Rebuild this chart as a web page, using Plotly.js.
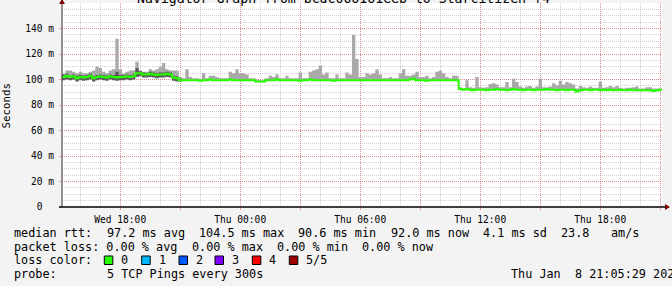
<!DOCTYPE html>
<html><head><meta charset="utf-8">
<script src="https://cdn.plot.ly/plotly-3.0.1.min.js"></script>
<style>html,body{margin:0;padding:0;background:#f3f3f3;overflow:hidden}#chart{width:672px;height:286px}</style>
</head><body><div id="chart"></div>
<script>
// 10-minute steps starting Wed 2020-01-07 15:05:29 (graph end Thu 21:05:29)
const medianRtt = [
 102,103,102,102.5,101,102, 101.5,102,103,101,102,102.5, 102,101.5,102.5,102,101.5,102,
 102,102.5,102,102.5,105,105, 104,104,104.5,104,103.5,104, 104,104.5,104,101.5,101,99.5,
 99.5,99.5,99.5,99.5,99.5,99, 99.5,99.5,100,99.5,99.5,99.5, 99.5,99.5,100,99.5,99.5,99.5,
 99.5,99.5,99.5,99.5,98.5,98.5, 98.5,99.5,99.5,99.5,100,99.5, 99.5,99.5,99.5,99.5,99.5,99,
 99.5,99.5,100,99.5,99.5,99.5, 99.5,99.5,99.5,99,99.5,99.5, 99.5,99.5,99.5,99.5,99.5,99.5,
 99.5,99.5,99.5,99.5,99.5,99.5, 99.5,99.5,99.5,99.5,99.5,99.5, 99.5,99.5,100,100.5,99.5,99.5,
 99.5,99,99.5,99.5,99.5,99.5, 99.5,99.5,99.5,99.5,99.5,92.5, 92,92.5,92,91.5,92,92,
 92,91.5,92,92,92.5,92, 92,91.5,92,92.5,92,92, 91.5,92,92,91.5,92,92,
 92,92.5,92,92,91.5,92, 92,91.5,92,92,90.6,91.5, 92,92,91.5,92,92,91.5,
 92,91.5,92,91.5,91.5,92, 91.5,91.5,92,91.5,91.5,91.5, 91.5,91.5,91.5,91,91.5,92
];
const maxRtt = [
 105,107,107,106,105,106, 105,105,106,107,110,109, 106,105,107,108,132,108,
 105,106,107,107,114,107, 106,106,108,107,108,110, 113,108,107,107,107,102,
 101,108,102,101,101,100.5, 105,101,103,103,102,101, 101,101,106,105,108,105,
 105,104,101,101,100,99.5, 99.5,101,103,102,104,101, 101,103,101,101,101,105.5,
 101,101,106,107,108,111, 104,105.5,101,101,104,101, 101,105.5,104,135,116,102,
 102,105,104,105,108,104, 101,101,102,101,101,105, 108,103,103,104,106,102,
 102,103,101,102,106,107, 105,102,101,103,103,94, 93,99.5,94,93.5,102,94,
 93.5,94,96.5,97,96,94, 94,98,94,100.5,98,94.5, 93.5,94.5,95,93.5,94.5,100.5,
 94,94,94.5,97,95.5,99, 96,98,97,96,93,95, 94,93.5,94.5,93.5,93.5,98.5,
 93.5,94,95,94,95,93.5, 93,93.5,93.5,94,94.5,93, 93,94,94,93,93,93
];
const darkLow = [
 99.5,100,99.5,100,98.5,99.5, 99,99.5,100,98.5,99.5,100, 99.5,99,100,99.5,99,99.5,
 99.5,100,99.5,100,102,102.5, 101.5,101.5,102,101.5,101,101.5, 101.5,102,101.5,99,98.5,98.5
];
const darkHigh = [
 103.5,104.5,103,104,103,103.5, 103,103.5,104.5,102.5,103.5,104, 103.5,103,104,103.5,106,103.5,
 103.5,104,103.5,104,109,106.5, 105.5,105,106,105.5,105,105.5, 105.5,106,105.5,103,102.5,100.5
];
const xTickText = ['Wed 18:00','','Thu 00:00','','Thu 06:00','','Thu 12:00','','Thu 18:00',''];
const yTickValues = [0,20,40,60,80,100,120,140];
const yTickText = ['0\u00a0\u00a0','20 m','40 m','60 m','80 m','100 m','120 m','140 m'];
const lossLabels = ['0','1','2','3','4','5/5'];
const lossColors = ['#26ff00','#00b8ff','#0059ff','#7e00ff','#ff0000','#a10000'];
const statLines = [
 'median rtt:  97.2 ms avg  104.5 ms max  90.6 ms min  92.0 ms now  4.1 ms sd  23.8   am/s',
 'packet loss: 0.00 % avg  0.00 % max  0.00 % min  0.00 % now',
 'loss color:',
 'probe:       5 TCP Pings every 300s'
];
const stampText = 'Thu Jan  8 21:05:29 2020';
const titleText = 'Navigator Graph from bcdc066161eeb to Starcitizen f4';

const STEP = 600000;
const T0 = Date.UTC(2020,0,7,15,5,29);
const T1 = Date.UTC(2020,0,8,21,5,29);
function xs(n){ const a=[]; for(let i=0;i<=n;i++) a.push(T0+i*STEP); return a; }
function ext(arr){ return arr.concat([arr[arr.length-1]]); }

const xMain = xs(medianRtt.length);
const xDark = xs(darkLow.length);
const base = {mode:'lines', line:{width:0, shape:'hv'}, hoverinfo:'skip', showlegend:false};
const traces = [
 Object.assign({}, base, {x:xMain, y:ext(medianRtt)}),
 Object.assign({}, base, {x:xMain, y:ext(maxRtt), fill:'tonexty', fillcolor:'#a9a9a9'}),
 Object.assign({}, base, {x:xDark, y:ext(darkLow)}),
 Object.assign({}, base, {x:xDark, y:ext(darkHigh), fill:'tonexty', fillcolor:'#5c5c5c'}),
 {x:xMain, y:ext(medianRtt), mode:'lines', line:{width:2, color:'#26ff00', shape:'hv'}, showlegend:false, hoverinfo:'skip'}
];

const tickVals = [];
for(let k=0;k<10;k++) tickVals.push(Date.UTC(2020,0,7,18)+k*3*3600000);

const L=62, W=600, B=207, H=204;
const px = x => (x-L)/W;
const py = y => (B-y)/H;
const nb = s => s.replace(/ /g,'\u00a0');
const font = {family:'DejaVu Sans Mono', color:'#000'};
const CW = 7.1, X0 = 12.3, FS = 11.8;

const annotations = [];
function textAt(str, xPix, yPix, size){
  annotations.push({xref:'paper',yref:'paper',x:px(xPix),y:py(yPix),xanchor:'left',yanchor:'middle',
    text:nb(str),showarrow:false,font:Object.assign({size:size},font)});
}
// place each field of a line at its character column
statLines.forEach((s,i)=>{
  const re = /\S+(?: \S+)*/g; let m;
  while((m = re.exec(s)) !== null){ textAt(m[0], X0 + m.index*CW, 232.7+i*13.8, FS); }
});
textAt(stampText, 509.3, 232.7+3*13.8, FS);
const lossX = [104.3,141.7,179,215,252.3,289.3];
const shapes = [];
lossLabels.forEach((lab,i)=>{
  textAt(lab, lossX[i]+15, 260.3, FS);
  shapes.push({type:'rect',xref:'paper',yref:'paper',x0:px(lossX[i]),x1:px(lossX[i]+8.5),y0:py(256),y1:py(264.5),
    fillcolor:lossColors[i],line:{color:'#000',width:1}});
});
annotations.push({xref:'paper',yref:'paper',x:px(5.5),y:py(106),xanchor:'center',yanchor:'middle',textangle:-90,
  text:'Seconds',showarrow:false,font:Object.assign({size:10.8},font)});
annotations.push({xref:'paper',yref:'paper',x:px(343.5),y:py(-1.5),xanchor:'center',yanchor:'middle',
  text:nb(titleText),showarrow:false,font:Object.assign({size:13.2},font)});

// axis extensions and arrows
shapes.push({type:'line',xref:'paper',yref:'paper',x0:px(62),x1:px(62),y0:py(207),y1:py(0),line:{color:'#3a2a2a',width:1}});
shapes.push({type:'line',xref:'paper',yref:'paper',x0:px(59),x1:px(666),y0:py(207),y1:py(207),line:{color:'#000',width:1.3}});
shapes.push({type:'path',xref:'paper',yref:'paper',path:`M ${px(665)},${py(204)} L ${px(670)},${py(207)} L ${px(665)},${py(210)} Z`,fillcolor:'#7a0000',line:{width:0}});
shapes.push({type:'path',xref:'paper',yref:'paper',path:`M ${px(59)},${py(4)} L ${px(62)},${py(-1)} L ${px(65)},${py(4)} Z`,fillcolor:'#7a0000',line:{width:0}});

const major = 'rgba(222,48,48,0.42)';
const minor = 'rgba(143,143,143,0.42)';
const layout = {
  width:672, height:286,
  margin:{l:62, r:10, t:3, b:79, pad:0},
  paper_bgcolor:'#f3f3f3', plot_bgcolor:'#ffffff',
  font:Object.assign({size:9.6},font),
  showlegend:false,
  xaxis:{type:'date', range:[T0,T1], tickmode:'array', tickvals:tickVals, ticktext:xTickText,
    showgrid:true, gridcolor:major, griddash:'1px,1px', gridwidth:1,
    ticks:'outside', ticklen:2, tickcolor:major,
    minor:{dtick:3600000, tick0:Date.UTC(2020,0,7,18), showgrid:true, gridcolor:minor, griddash:'1px,1px', ticks:''},
    showline:false, zeroline:false, fixedrange:true, tickfont:Object.assign({size:9.6},font), ticklabelstandoff:1},
  yaxis:{range:[0,160], tickmode:'array', tickvals:yTickValues, ticktext:yTickText,
    showgrid:true, gridcolor:major, griddash:'1px,1px', gridwidth:1,
    ticks:'outside', ticklen:2, tickcolor:major,
    minor:{dtick:5, tick0:0, showgrid:true, gridcolor:minor, griddash:'1px,1px', ticks:''},
    showline:false, zeroline:false, fixedrange:true, tickfont:Object.assign({size:9.6},font), ticklabelstandoff:3},
  annotations:annotations, shapes:shapes
};
Plotly.newPlot('chart', traces, layout, {staticPlot:true, displayModeBar:false});
</script></body></html>
